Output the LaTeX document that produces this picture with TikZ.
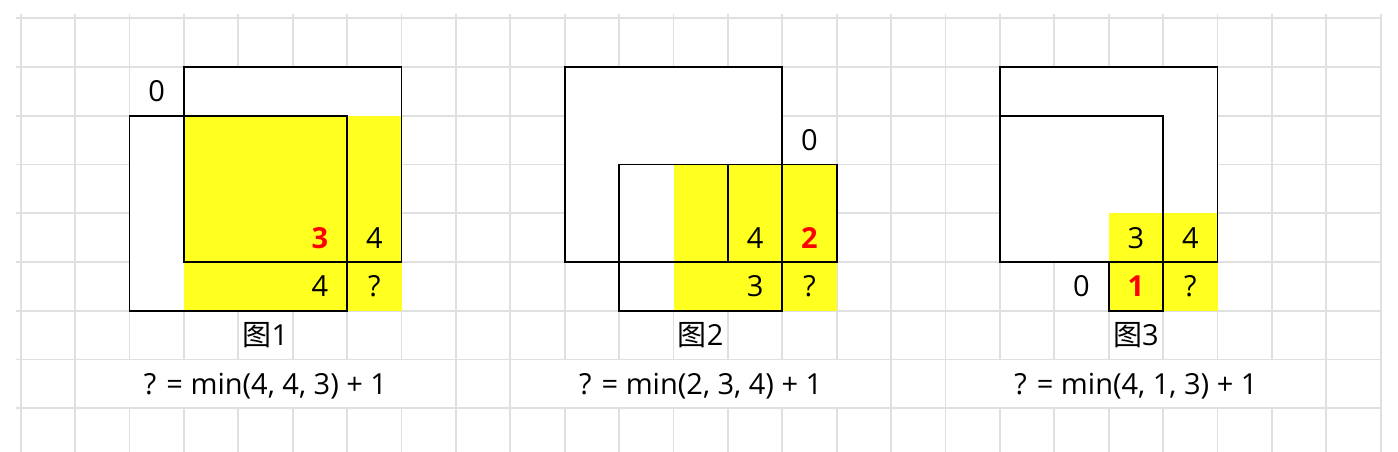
\documentclass[tikz,border=0pt]{standalone}
\usepackage{fontspec}
\setmainfont{Open Sans}
\newfontfamily\cjk{Noto Sans CJK SC}
\usepackage{xcolor}
\definecolor{gridgray}{RGB}{222,224,226}
\definecolor{cellyellow}{RGB}{255,255,32}
\tikzset{
  gridline/.style={color=gridgray,line width=1pt},
  box/.style={draw=black,line width=1.1pt},
  num/.style={font=\fontsize{16.5}{19}\selectfont,inner sep=0pt,text height=11.8pt,text depth=0pt},
  hot/.style={num,text=red,font=\fontsize{16.5}{19}\selectfont\bfseries},
}

\begin{document}
\begin{tikzpicture}[x=1.088cm,y=-0.975cm]
\useasboundingbox (-0.3805,-0.375) rectangle (25.318,8.896);
\fill[white] (-0.3805,-0.375) rectangle (25.318,8.896);
% sheet grid, row 7 has merged cells
\foreach \c in {0,...,25} \draw[gridline] (\c,-0.09) -- (\c,7) (\c,8) -- (\c,8.896);
\foreach \c in {0,1,8,9,16,17,24,25} \draw[gridline] (\c,7) -- (\c,8);
\foreach \r in {0,...,8} \draw[gridline] (-0.09,\r) -- (25,\r);

% fig 1
\fill[white] (3,1) rectangle (7,5) (2,2) rectangle (6,6);
\fill[cellyellow] (3,2) rectangle (7,6);
\draw[box] (3,1) rectangle (7,5);
\draw[box] (2,2) rectangle (6,6);
\node[num] (zero1) at (2.5,1.5) {0};
\node[hot] (diag1) at (5.5,4.5) {3};
\node[num] (top1) at (6.5,4.5) {4};
\node[num] (left1) at (5.5,5.5) {4};
\node[num] (ask1) at (6.5,5.5) {?};
\node[num] (cap1) at (4.5,6.5) {{\cjk 图}1};
\node[num] (eq1) at (4.5,7.5) {? = min(4, 4, 3) + 1};

% fig 2
\fill[white] (10,1) rectangle (14,5) (11,3) rectangle (14,6) (13,3) rectangle (15,5);
\fill[cellyellow] (12,3) rectangle (15,6);
\draw[box] (10,1) rectangle (14,5);
\draw[box] (11,3) rectangle (14,6);
\draw[box] (13,3) rectangle (15,5);
\node[num] (zero2) at (14.5,2.5) {0};
\node[num] (diag2) at (13.5,4.5) {4};
\node[hot] (top2) at (14.5,4.5) {2};
\node[num] (left2) at (13.5,5.5) {3};
\node[num] (ask2) at (14.5,5.5) {?};
\node[num] (cap2) at (12.5,6.5) {{\cjk 图}2};
\node[num] (eq2) at (12.5,7.5) {? = min(2, 3, 4) + 1};

% fig 3
\fill[white] (18,1) rectangle (22,5) (18,2) rectangle (21,5) (20,5) rectangle (21,6);
\fill[cellyellow] (20,4) rectangle (22,6);
\draw[box] (18,1) rectangle (22,5);
\draw[box] (18,2) rectangle (21,5);
\draw[box] (20,5) rectangle (21,6);
\node[num] (zero3) at (19.5,5.5) {0};
\node[num] (diag3) at (20.5,4.5) {3};
\node[num] (top3) at (21.5,4.5) {4};
\node[hot] (left3) at (20.5,5.5) {1};
\node[num] (ask3) at (21.5,5.5) {?};
\node[num] (cap3) at (20.5,6.5) {{\cjk 图}3};
\node[num] (eq3) at (20.5,7.5) {? = min(4, 1, 3) + 1};
\end{tikzpicture}
\end{document}
